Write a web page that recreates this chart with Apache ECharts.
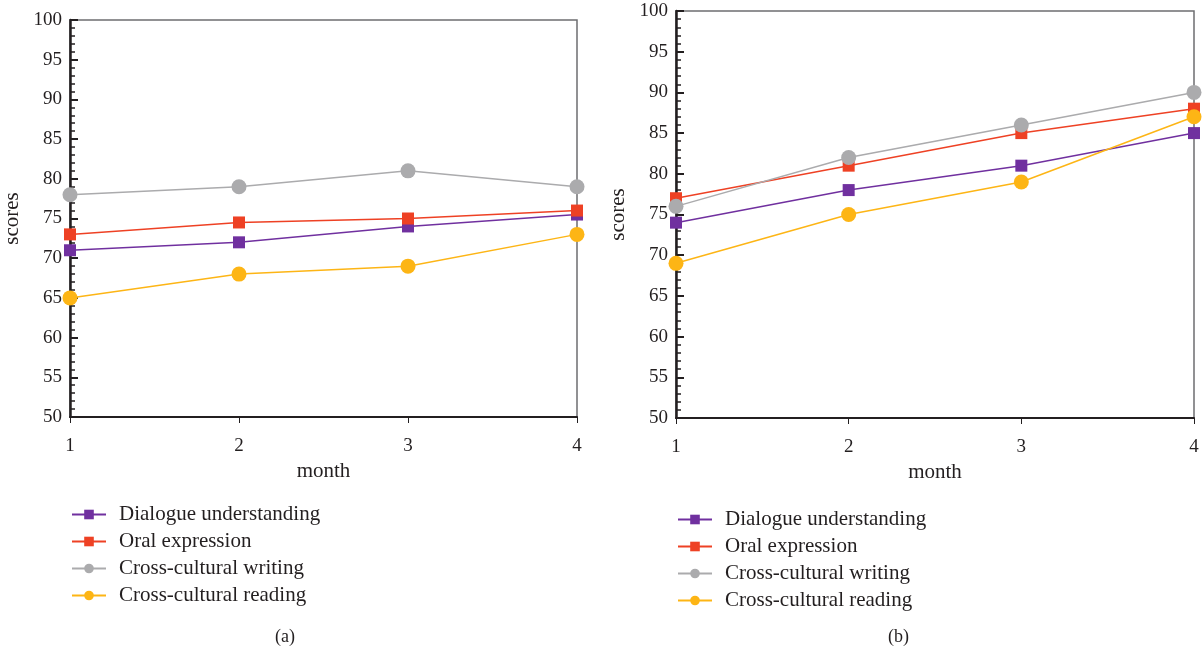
<!DOCTYPE html>
<html><head><meta charset="utf-8">
<script src="https://cdn.jsdelivr.net/npm/echarts@6/dist/echarts.min.js"></script>
<style>html,body{margin:0;padding:0;background:#fff}#c{width:1202px;height:652px}</style>
</head><body><div id="c"></div>
<script>
const months = [1, 2, 3, 4];
const seriesNames = ['Dialogue understanding', 'Oral expression', 'Cross-cultural writing', 'Cross-cultural reading'];
// panel (a)
const a_dialogue = [71, 72, 74, 75.5];
const a_oral = [73, 74.5, 75, 76];
const a_writing = [78, 79, 81, 79];
const a_reading = [65, 68, 69, 73];
// panel (b)
const b_dialogue = [74, 78, 81, 85];
const b_oral = [77, 81, 85, 88];
const b_writing = [76, 82, 86, 90];
const b_reading = [69, 75, 79, 87];
const panelLabels = ['(a)', '(b)'];

const colors = ['#70309F', '#EE4124', '#ABABAD', '#FDB515'];
const symbols = ['rect', 'rect', 'circle', 'circle'];
const sizes = [12, 12, 15, 15];
const FONT = '"Liberation Serif", "DejaVu Serif", serif';
const TXT = '#231F20';

const chart = echarts.init(document.getElementById('c'));
const grids = [
  {left: 70, top: 20, width: 507, height: 397},
  {left: 676, top: 11, width: 518, height: 407}
];
function xAx(i) {
  return {
    type: 'value', gridIndex: i, min: 1, max: 4, interval: 1,
    name: 'month', nameLocation: 'middle', nameGap: 43,
    nameTextStyle: {fontFamily: FONT, fontSize: 21, color: TXT},
    axisLine: {lineStyle: {color: '#231F20', width: 2}},
    axisTick: {show: true, inside: false, length: 6, lineStyle: {color: '#231F20', width: 1}},
    axisLabel: {fontFamily: FONT, fontSize: 19, color: TXT, margin: 20},
    splitLine: {show: false}
  };
}
function yAx(i) {
  return {
    type: 'value', gridIndex: i, min: 50, max: 100, interval: 5,
    name: 'scores', nameLocation: 'middle', nameGap: 47, nameRotate: 90,
    nameTextStyle: {fontFamily: FONT, fontSize: 21, color: TXT},
    axisLine: {show: true, lineStyle: {color: '#231F20', width: 2.5}},
    axisTick: {show: true, inside: true, length: 8, lineStyle: {color: '#231F20', width: 2}},
    minorTick: {show: true, splitNumber: 5, length: 5, lineStyle: {color: '#231F20', width: 1.5}},
    axisLabel: {fontFamily: FONT, fontSize: 19, color: TXT, margin: 8},
    splitLine: {show: false}
  };
}
const dataA = [a_dialogue, a_oral, a_writing, a_reading];
const dataB = [b_dialogue, b_oral, b_writing, b_reading];
const series = [];
[dataA, dataB].forEach((d, gi) => {
  d.forEach((vals, k) => {
    series.push({
      name: seriesNames[k], type: 'line', xAxisIndex: gi, yAxisIndex: gi,
      data: months.map((m, j) => [m, vals[j]]),
      symbol: symbols[k], symbolSize: sizes[k],
      itemStyle: {color: colors[k]},
      lineStyle: {color: colors[k], width: 1.5},
      z: 3 + k, animation: false, clip: false
    });
  });
});
function legend(left, top) {
  return {
    data: seriesNames, orient: 'vertical', left: left, top: top,
    itemGap: 6, itemWidth: 34, itemHeight: 12,
    textStyle: {fontFamily: FONT, fontSize: 21, color: TXT, padding: [0, 0, 0, 8]}
  };
}
chart.setOption({
  animation: false,
  grid: grids.map(g => Object.assign({show: true, borderColor: '#6D6E70', borderWidth: 1.5, backgroundColor: 'transparent'}, g)),
  xAxis: [xAx(0), xAx(1)],
  yAxis: [yAx(0), yAx(1)],
  legend: [legend(66, 499), legend(672, 504)],
  series: series,
  graphic: [
    {type: 'text', left: 275, top: 628, style: {text: panelLabels[0], font: '18px ' + FONT, fill: TXT}},
    {type: 'text', left: 888, top: 628, style: {text: panelLabels[1], font: '18px ' + FONT, fill: TXT}}
  ]
});
</script></body></html>
